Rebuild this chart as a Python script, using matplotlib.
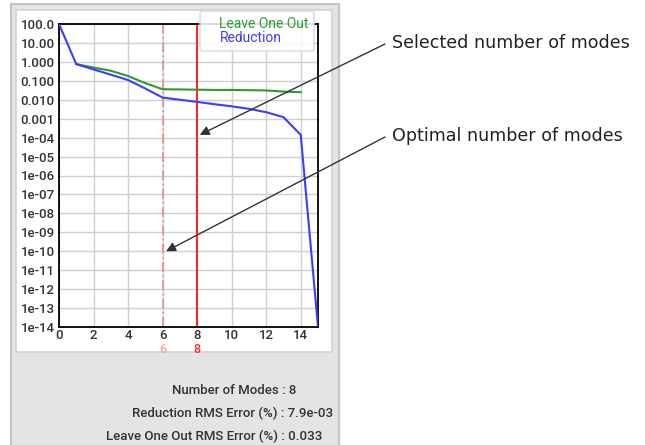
import matplotlib
matplotlib.use("Agg")
import matplotlib.pyplot as plt
from matplotlib.patches import Rectangle
from matplotlib.lines import Line2D
import matplotlib.transforms as mtransforms

# ---- data ----
modes_red = [0, 1, 2, 3, 4, 5, 6, 7, 8, 9, 10, 11, 12, 13, 14, 15]
reduction = [100, 0.76, 0.4, 0.21, 0.11, 0.039, 0.013, 0.0100, 0.0077,
             0.0058, 0.0045, 0.0033, 0.0022, 0.0012, 1.4e-4, 1e-14]
modes_loo = [1, 2, 3, 4, 5, 6, 7, 8, 9, 10, 11, 12, 13, 14]
leave_one_out = [0.76, 0.5, 0.34, 0.18, 0.075, 0.036, 0.035, 0.034, 0.033,
                 0.033, 0.032, 0.031, 0.027, 0.025]
optimal_modes = 6
selected_modes = 8
ytick_vals = [1e2, 1e1, 1e0, 1e-1, 1e-2, 1e-3, 1e-4, 1e-5, 1e-6, 1e-7,
              1e-8, 1e-9, 1e-10, 1e-11, 1e-12, 1e-13, 1e-14]
ytick_labels = ["100.0", "10.00", "1.000", "0.100", "0.010", "0.001",
                "1e-04", "1e-05", "1e-06", "1e-07", "1e-08", "1e-09",
                "1e-10", "1e-11", "1e-12", "1e-13", "1e-14"]
xtick_vals = [0, 2, 4, 6, 8, 10, 12, 14]
info_lines = ["Number of Modes : 8",
              "Reduction RMS Error (%) : 7.9e-03",
              "Leave One Out RMS Error (%) : 0.033"]
annot_texts = ["Selected number of modes", "Optimal number of modes"]

W, H = 645, 445
fig = plt.figure(figsize=(W / 100, H / 100), dpi=100)
fig.patch.set_facecolor("white")

def fx(px):
    return px / W

def fy(py):
    return 1 - py / H

# outer gray panel
fig.patches.append(Rectangle((fx(11), fy(446)), fx(339) - fx(11), fy(4) - fy(446),
                             transform=fig.transFigure, facecolor="#e4e4e4",
                             edgecolor="#c4c4c4", lw=1.5, zorder=-3))
# inner white panel
fig.patches.append(Rectangle((fx(16), fy(352)), fx(332) - fx(16), fy(10) - fy(352),
                             transform=fig.transFigure, facecolor="white",
                             edgecolor="#d2d2d2", lw=1.2, zorder=-2))

ax = fig.add_axes([fx(59), fy(327), fx(318) - fx(59), fy(24) - fy(327)])
ax.set_zorder(1)
ax.patch.set_alpha(0)
ax.set_yscale("log")
ax.set_xlim(0, 15)
ax.set_ylim(1e-14, 1e2)

ax.set_yticks(ytick_vals)
ax.set_yticklabels(ytick_labels)
ax.yaxis.set_minor_locator(matplotlib.ticker.NullLocator())
ax.set_xticks(xtick_vals)
ax.set_xticklabels([str(v) for v in xtick_vals])
ax.tick_params(axis="y", length=0, labelsize=9.5, labelcolor="#333333", pad=3)
ax.tick_params(axis="x", length=0, labelsize=9.5, labelcolor="#333333", pad=1.5)
for lab in ax.get_yticklabels() + ax.get_xticklabels():
    lab.set_fontfamily("Roboto")
    lab.set_fontweight("medium")
ax.grid(True, color="#cfcfcf", lw=1.0)
ax.set_axisbelow(True)
for s in ax.spines.values():
    s.set_color("black")
    s.set_linewidth(1.3)

ax.axvline(optimal_modes, color="#f08a8a", lw=1.2, ls=(0, (6, 2, 1, 2)), zorder=2)
ax.axvline(selected_modes, color="#ff2020", lw=1.4, zorder=2)

ax.plot(modes_loo, leave_one_out, color="#2f9a2f", lw=1.5, zorder=3)
ax.plot(modes_red, reduction, color="#3c3cff", lw=1.5, zorder=4)

trans = mtransforms.blended_transform_factory(ax.transData, ax.transAxes)
ax.text(optimal_modes, -0.074, str(optimal_modes), transform=trans, ha="center", va="center",
        color="#f8a0a0", fontsize=9, fontfamily="Roboto", fontweight="medium")
ax.text(selected_modes, -0.074, str(selected_modes), transform=trans, ha="center", va="center",
        color="#ff2020", fontsize=9, fontfamily="Roboto", fontweight="medium")

# legend (text only)
handles = [Line2D([], [], color="#2f9a2f", lw=0), Line2D([], [], color="#3c3cff", lw=0)]
leg = ax.legend(handles, ["Leave One Out", "Reduction"], loc="upper left",
                bbox_to_anchor=(fx(200), fy(11)), bbox_transform=fig.transFigure,
                handlelength=1.0, handletextpad=0.0, labelspacing=0.05,
                borderpad=0.4, borderaxespad=0, frameon=True, fancybox=True,
                prop={"family": "Roboto", "size": 10})
leg.get_frame().set_edgecolor("#d8d8d8")
leg.get_frame().set_facecolor("white")
leg.get_frame().set_alpha(0.85)
leg.get_frame().set_linewidth(1.2)
for t, c in zip(leg.get_texts(), ["#2f9a2f", "#3c3cff"]):
    t.set_color(c)
leg.set_zorder(10)

# info text below
info_pos = [(172, 391), (132, 413), (106, 436)]
for txt, (px, py) in zip(info_lines, info_pos):
    fig.text(fx(px), fy(py), txt, ha="left", va="center", fontsize=9.5,
             fontfamily="Roboto", fontweight="medium", color="#333333")

# annotations
tips = [(8.15, 1.4e-4), (6.2, 1e-10)]
tails = [(385, 44), (385, 137)]
for txt, tip, (tx, ty) in zip(annot_texts, tips, tails):
    ax.annotate("", xy=tip, xycoords="data",
                xytext=(tx, H - ty), textcoords="figure pixels",
                arrowprops=dict(arrowstyle="-|>", color="#333333", lw=1.0,
                                mutation_scale=14, shrinkA=0, shrinkB=0),
                annotation_clip=False, zorder=11)
    fig.text(fx(tx + 7), fy(ty - 1), txt, ha="left", va="center", fontsize=12.6,
             fontfamily="DejaVu Sans", color="#222222")

fig.savefig("out.png", dpi=100)
